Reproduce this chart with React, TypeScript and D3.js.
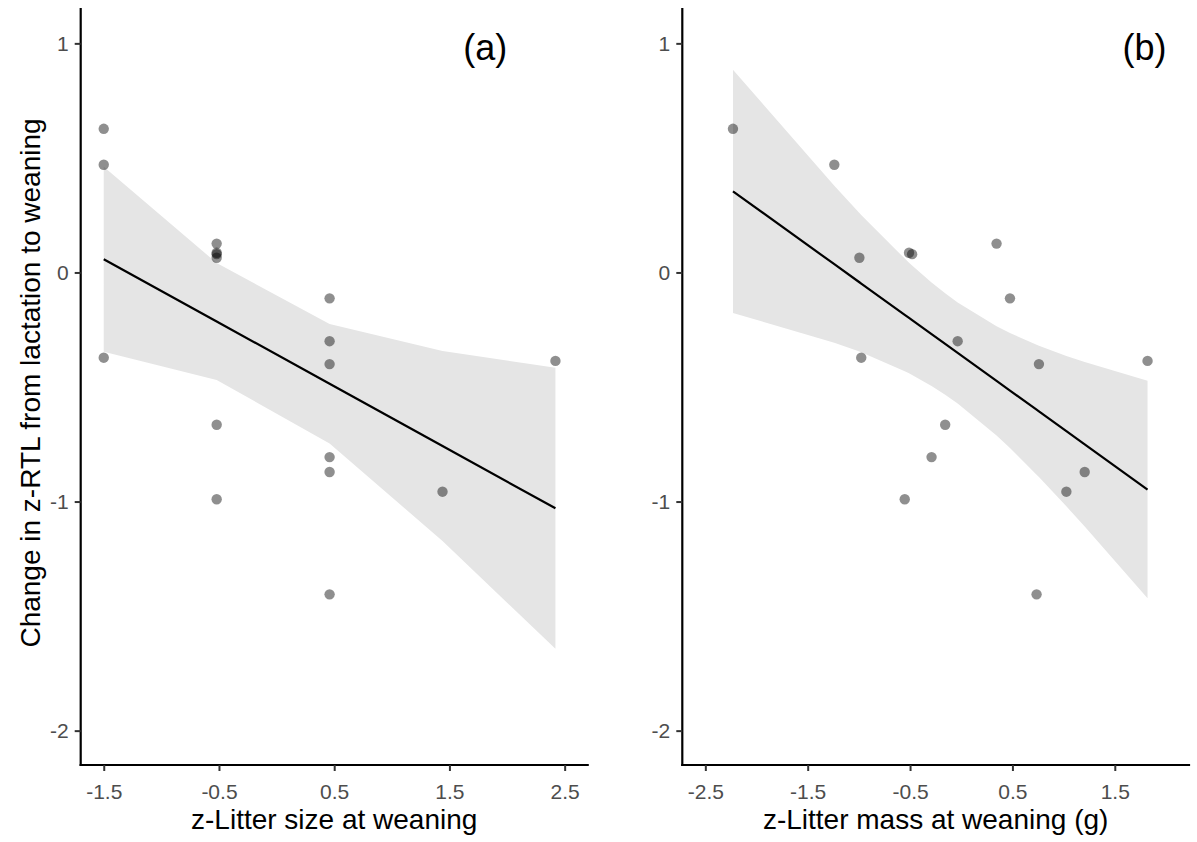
import * as d3 from 'd3';
import React, { useEffect, useRef } from 'react';

// values (same animals in both, same order)
const deltaRTL = [0.627, 0.47, -0.372, 0.126, 0.086, 0.08, 0.064, -0.665, -0.99, -0.113, -0.3, -0.4, -0.806, -0.871, -1.405, -0.957, -0.386];
const litterSize = [-1.5, -1.5, -1.5, -0.52, -0.52, -0.52, -0.52, -0.52, -0.52, 0.46, 0.46, 0.46, 0.46, 0.46, 0.46, 1.44, 2.42];
const litterMass = [-2.23, -1.24, -0.977, 0.345, -0.51, -0.48, -0.995, -0.157, -0.552, 0.476, -0.035, 0.759, -0.29, 1.206, 0.736, 1.027, 1.82];

const yTicks = [-2, -1, 0, 1];
const sizeTicks = [-1.5, -0.5, 0.5, 1.5, 2.5];
const massTicks = [-2.5, -1.5, -0.5, 0.5, 1.5];
const panelTags = ['(a)', '(b)'];
const xTitles = ['z-Litter size at weaning', 'z-Litter mass at weaning (g)'];
const yTitle = 'Change in z-RTL from lactation to weaning';

const W = 1197;
const H = 842;
const FONT = '"Liberation Sans", Arial, Helvetica, sans-serif';

// ordinary least squares + 95% band (normal quantile), evaluated at the observed x values
function fitLine(xs: number[], ys: number[]) {
    const n = xs.length;
    const mx = d3.mean(xs) as number;
    const my = d3.mean(ys) as number;
    let sxx = 0, sxy = 0;
    for (let i = 0; i < n; i++) {
        sxx += (xs[i] - mx) ** 2;
        sxy += (xs[i] - mx) * (ys[i] - my);
    }
    const slope = sxy / sxx;
    const intercept = my - slope * mx;
    let sse = 0;
    for (let i = 0; i < n; i++) sse += (ys[i] - intercept - slope * xs[i]) ** 2;
    const s = Math.sqrt(sse / (n - 2));
    const ux = Array.from(new Set(xs)).sort((a, b) => a - b);
    const band = ux.map((x) => {
        const fit = intercept + slope * x;
        const se = s * Math.sqrt(1 / n + (x - mx) ** 2 / sxx);
        return { x, fit, lo: fit - 1.96 * se, hi: fit + 1.96 * se };
    });
    return band;
}

export default function App() {
    const svgRef = useRef<SVGSVGElement>(null);

    useEffect(() => {
        const svg = d3.select(svgRef.current);
        svg.selectAll('*').remove();

        const top = 9, bottom = 765;
        const y = d3.scaleLinear().domain([-2.15, 1.15]).range([bottom, top]);

        const panels = [
            { xs: litterSize, ticks: sizeTicks, domain: [-1.7, 2.7], range: [80.7, 587.7], tagX: 1.81 },
            { xs: litterMass, ticks: massTicks, domain: [-2.725, 2.225], range: [682.3, 1189], tagX: 1.79 },
        ];

        panels.forEach((p, pi) => {
            const x = d3.scaleLinear().domain(p.domain).range(p.range);
            const g = svg.append('g');
            const band = fitLine(p.xs, deltaRTL);

            // confidence ribbon
            const area = d3.area<any>()
                .x((d) => x(d.x))
                .y0((d) => y(d.lo))
                .y1((d) => y(d.hi));
            g.append('path').datum(band).attr('d', area).attr('fill', '#e5e5e5');

            // fitted line
            const line = d3.line<any>().x((d) => x(d.x)).y((d) => y(d.fit));
            g.append('path').datum(band).attr('d', line)
                .attr('fill', 'none').attr('stroke', '#000').attr('stroke-width', 2.2);

            // points
            g.selectAll('circle.pt')
                .data(p.xs.map((v, i) => [v, deltaRTL[i]]))
                .enter()
                .append('circle')
                .attr('class', 'pt')
                .attr('cx', (d) => x(d[0]))
                .attr('cy', (d) => y(d[1]))
                .attr('r', 5.2)
                .attr('fill', '#000')
                .attr('fill-opacity', 0.44);

            // axes
            const xAxis = g.append('g')
                .attr('transform', `translate(0,${bottom})`)
                .call(d3.axisBottom(x).tickValues(p.ticks).tickSize(6).tickSizeOuter(0).tickPadding(13)
                    .tickFormat((d) => String(d)));
            const yAxis = g.append('g')
                .attr('transform', `translate(${p.range[0]},0)`)
                .call(d3.axisLeft(y).tickValues(yTicks).tickSize(6).tickSizeOuter(0).tickPadding(6)
                    .tickFormat((d) => String(d)));

            [xAxis, yAxis].forEach((ax) => {
                ax.select('.domain').attr('stroke', '#000').attr('stroke-width', 2.2).attr('stroke-linecap', 'square');
                ax.selectAll('.tick line').attr('stroke', '#333').attr('stroke-width', 2);
                ax.selectAll('.tick text')
                    .attr('fill', '#4d4d4d')
                    .style('font-family', FONT)
                    .style('font-size', '21px');
            });
            // extend the domain lines to the panel corner
            xAxis.select('.domain').attr('d', `M${p.range[0]},0H${p.range[1]}`);
            yAxis.select('.domain').attr('d', `M0,${bottom}V${top}`);

            // x title
            g.append('text')
                .attr('x', (p.range[0] + p.range[1]) / 2)
                .attr('y', 829)
                .attr('text-anchor', 'middle')
                .style('font-family', FONT)
                .style('font-size', '28px')
                .attr('fill', '#000')
                .text(xTitles[pi]);

            // panel tag
            g.append('text')
                .attr('x', x(p.tagX))
                .attr('y', y(1) + 17)
                .attr('text-anchor', 'middle')
                .style('font-family', FONT)
                .style('font-size', '36px')
                .attr('fill', '#000')
                .text(panelTags[pi]);
        });

        // shared y title on the left panel
        svg.append('text')
            .attr('transform', `translate(40,${(top + bottom) / 2 - 4}) rotate(-90)`)
            .attr('text-anchor', 'middle')
            .style('font-family', FONT)
            .style('font-size', '28px')
            .attr('fill', '#000')
            .text(yTitle);
    }, []);

    return (
        <svg ref={svgRef} width={W} height={H}
            style={{ position: 'absolute', left: 0, top: 0, background: '#fff' }} />
    );
}
